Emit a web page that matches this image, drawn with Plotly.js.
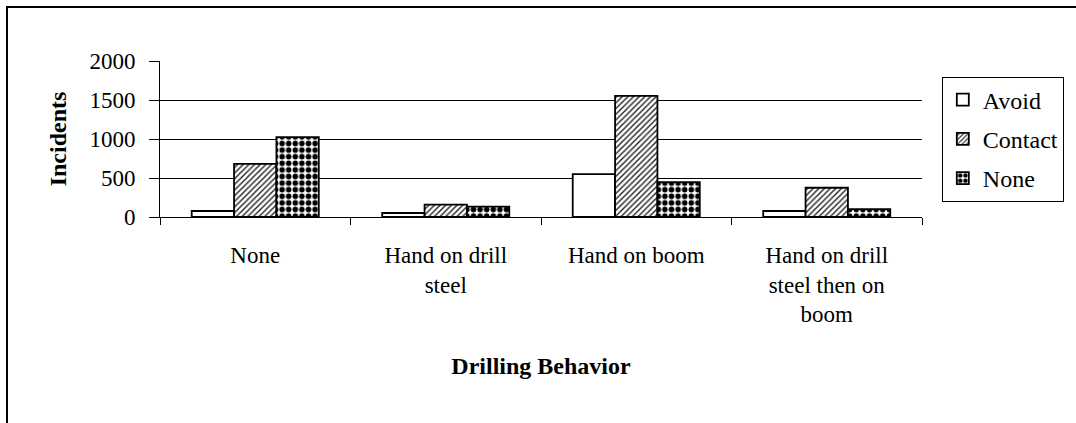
<!DOCTYPE html>
<html>
<head>
<meta charset="utf-8">
<script src="https://cdn.plot.ly/plotly-3.0.1.min.js"></script>
<style>
  html, body { margin: 0; padding: 0; background: #fff; }
  #wrap { position: relative; width: 1076px; height: 423px; overflow: hidden; }
  #chart { width: 1076px; height: 423px; }
  #frame { position: absolute; left: 6px; top: 6px; width: 1200px; height: 600px;
           border-top: 2px solid #000; border-left: 2px solid #000; pointer-events: none; }
</style>
</head>
<body>
<div id="wrap">
  <div id="chart"></div>
  <div id="frame"></div>
</div>
<script>
const categories = ["None", "Hand on drill<br>steel", "Hand on boom", "Hand on drill<br>steel then on<br>boom"];
const avoidValues = [77, 51, 550, 77];
const contactValues = [682, 158, 1552, 375];
const noneValues = [1023, 132, 448, 102];
const seriesNames = ["Avoid", "Contact", "None"];
const yTicks = [0, 500, 1000, 1500, 2000];

const serif = "Liberation Serif, Times New Roman, serif";
const lineStyle = { color: "#000", width: 1.8 };

const traces = [
  {
    type: "bar", name: seriesNames[0], x: categories, y: avoidValues, legendgroup: "a",
    marker: { color: "#fff", line: lineStyle }
  },
  {
    type: "bar", name: seriesNames[1], x: categories, y: contactValues, legendgroup: "b",
    marker: { color: "#fff", line: lineStyle,
      pattern: { shape: "/", fgcolor: "#222", bgcolor: "#fff", size: 4, solidity: 0.35 } }
  },
  {
    type: "bar", name: seriesNames[2], x: categories, y: noneValues, legendgroup: "c",
    marker: { color: "#fff", line: lineStyle,
      pattern: { shape: ".", fgcolor: "#000", bgcolor: "#fff", size: 6.6, solidity: 0.55 } }
  }
];

const layout = {
  width: 1076, height: 423,
  margin: { l: 160, r: 154, t: 61, b: 206 },
  paper_bgcolor: "#fff", plot_bgcolor: "#fff",
  font: { family: serif, color: "#000", size: 23 },
  barmode: "group", bargap: 0.333, bargroupgap: 0,
  showlegend: true,
  legend: {
    x: 1.026, y: 0.90, xanchor: "left", yanchor: "top",
    bordercolor: "#000", borderwidth: 1, bgcolor: "#fff",
    traceorder: "grouped", tracegroupgap: 5,
    font: { family: serif, size: 24, color: "#000" }
  },
  xaxis: {
    type: "category",
    showline: true, linecolor: "#000", linewidth: 1,
    ticks: "outside", tickson: "boundaries", ticklen: 7, tickcolor: "#000",
    showgrid: false, ticklabelstandoff: 17,
    tickfont: { family: serif, size: 23, color: "#000" },
    title: { text: "<b>Drilling Behavior</b>", font: { family: serif, size: 24, color: "#000" }, standoff: 30 },
    automargin: false
  },
  yaxis: {
    range: [0, 2000], tickvals: yTicks,
    showline: true, linecolor: "#000", linewidth: 1,
    ticks: "outside", ticklen: 10, tickcolor: "#000",
    showgrid: true, gridcolor: "#000", gridwidth: 1, zeroline: false,
    ticklabelstandoff: 9,
    tickfont: { family: serif, size: 23, color: "#000" },
    title: { text: "<b>Incidents</b>", font: { family: serif, size: 24, color: "#000" }, standoff: 16 },
    automargin: false
  }
};

Plotly.newPlot("chart", traces, layout, { displayModeBar: false, staticPlot: true });
</script>
</body>
</html>
